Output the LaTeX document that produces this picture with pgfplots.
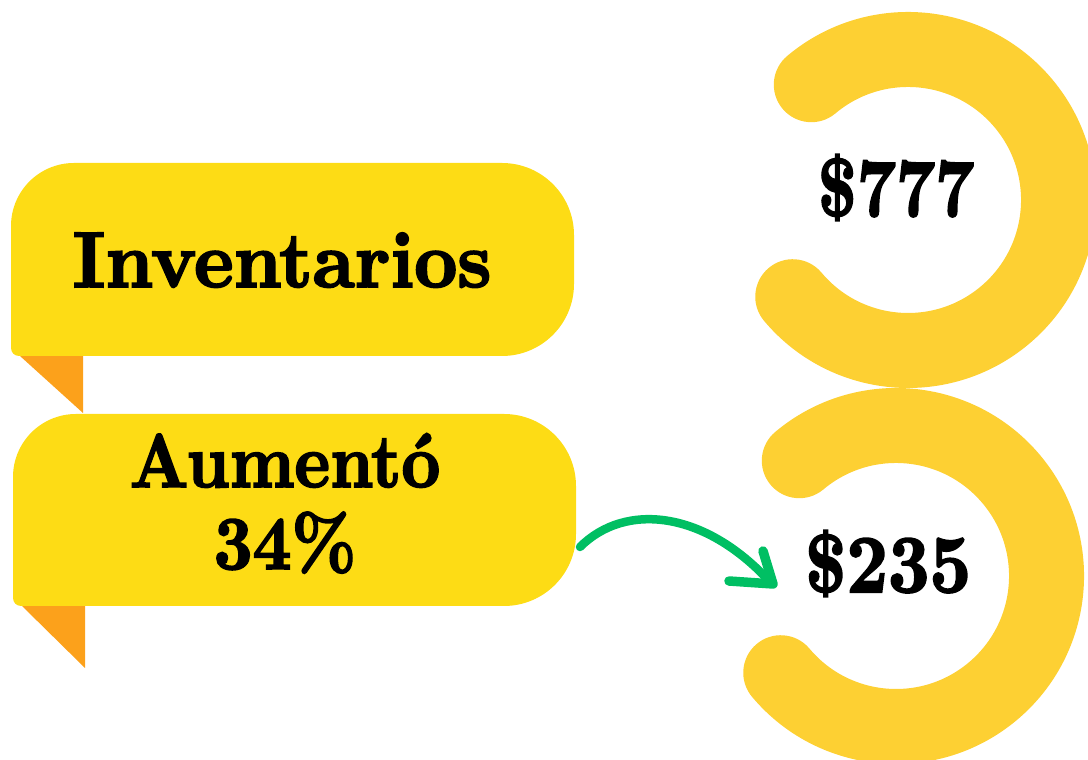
\documentclass[border=0pt]{standalone}
\usepackage{fontspec}
\usepackage{pgfplots}
\pgfplotsset{compat=1.18}
\usepackage{graphicx}
\newfontfamily\heavy{lmroman10-bold}[Extension=.otf,FakeBold=2.5]
\definecolor{ribbon}{RGB}{253,220,21}
\definecolor{fold}{RGB}{252,161,27}
\definecolor{ringc}{RGB}{253,208,51}
\definecolor{arrowg}{RGB}{0,191,99}
\begin{document}
\begin{tikzpicture}
\begin{axis}[width=1088pt,height=760pt,scale only axis,
  xmin=0,xmax=1088,ymin=0,ymax=760,axis lines=none,ticks=none,clip=true]
% rings (gauge arcs)
\draw[ringc,line width=75pt,line cap=round] (axis cs:811.3,675.3) arc[start angle=130,end angle=-140,radius=150.5pt];
\draw[ringc,line width=75pt,line cap=round] (axis cs:799.3,299.3) arc[start angle=130,end angle=-140,radius=150.5pt];
% folds
\fill[fold] (axis cs:20,414) -- (axis cs:83,414) -- (axis cs:83,347) -- (axis cs:20,404) -- cycle;
\fill[fold] (axis cs:22,164) -- (axis cs:85,164) -- (axis cs:85,92) -- (axis cs:22,154) -- cycle;
% ribbon 1
\fill[ribbon] (axis cs:11,412) -- (axis cs:11,534) arc[start angle=180,end angle=90,radius=63pt]
  -- (axis cs:502,597) arc[start angle=90,end angle=0,radius=72pt]
  -- (axis cs:574,476) arc[start angle=0,end angle=-90,radius=72pt]
  -- (axis cs:19,404) arc[start angle=270,end angle=180,radius=8pt] -- cycle;
% ribbon 2
\fill[ribbon] (axis cs:13,162) -- (axis cs:13,283) arc[start angle=180,end angle=90,radius=63pt]
  -- (axis cs:504,346) arc[start angle=90,end angle=0,radius=72pt]
  -- (axis cs:576,226) arc[start angle=0,end angle=-90,radius=72pt]
  -- (axis cs:21,154) arc[start angle=270,end angle=180,radius=8pt] -- cycle;
% arrow
\draw[arrowg,line width=8.5pt,line cap=round] (axis cs:580,213) .. controls (axis cs:625,258) and (axis cs:705,250) .. (axis cs:771,177);
\draw[arrowg,line width=9.5pt,line cap=round,line join=round] (axis cs:763,209) -- (axis cs:773,176) -- (axis cs:729,179);
% texts
\node[anchor=base,inner sep=0pt] at (axis cs:282,473) {\scalebox{0.95}[1]{\fontsize{79}{90}\selectfont\heavy Inventarios}};
\node[anchor=base,inner sep=0pt] at (axis cs:285,273) {\scalebox{0.89}[1]{\fontsize{76}{90}\selectfont\heavy Aument\'o}};
\node[anchor=base,inner sep=0pt] at (axis cs:285,191) {\scalebox{0.89}[1]{\fontsize{76}{90}\selectfont\heavy 34\%}};
\node[anchor=base,inner sep=0pt] at (axis cs:896,544) {\scalebox{0.83}[1]{\fontsize{82}{90}\selectfont\heavy \$777}};
\node[anchor=base,inner sep=0pt] at (axis cs:888,168) {\scalebox{0.88}[1]{\fontsize{82}{90}\selectfont\heavy \$235}};
\end{axis}
\pgfresetboundingbox
\path[use as bounding box] (current axis.south west) rectangle (current axis.north east);
\end{tikzpicture}
\end{document}
